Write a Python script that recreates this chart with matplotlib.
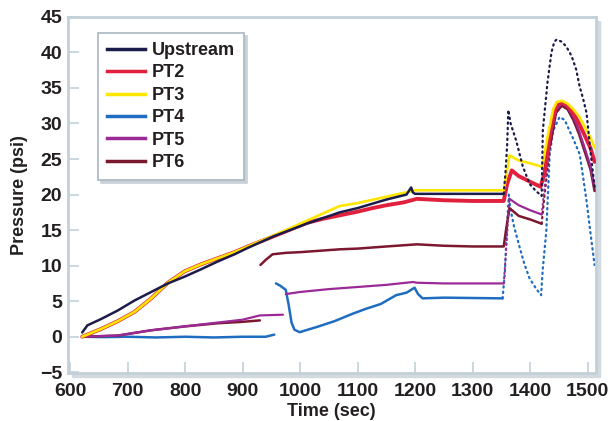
import numpy as np
import matplotlib
matplotlib.use("Agg")
import matplotlib.pyplot as plt
from matplotlib.lines import Line2D
from matplotlib.patches import Rectangle

plt.rcParams['font.family'] = ['Liberation Sans', 'DejaVu Sans']
plt.rcParams['font.weight'] = 'bold'

# valores (tiempo en s, presion en psi); nan = hueco
up_t = [621, 630, 654, 683, 712, 741, 770, 799, 828, 857, 886, 909, 953, 1011, 1069, 1100, 1150,
        1185, 1193, 1196, 1200, 1250, 1300, 1354, 1357, 1360, 1362, 1366, 1376, 1387, 1399, 1410,
        1420, 1422, 1430, 1437, 1442, 1446, 1455, 1463, 1472, 1480, 1486, 1492, 1498, 1505, 1512]
up_p = [0.6, 1.6, 2.5, 3.7, 5.1, 6.3, 7.5, 8.45, 9.5, 10.6, 11.6, 12.5, 14.1, 15.9, 17.5, 18.1, 19.3,
        20.0, 21.0, 20.3, 20.1, 20.1, 20.1, 20.1, 23.0, 27.0, 31.9, 30.0, 27.5, 24.0, 21.5, 20.5,
        19.8, 29.0, 35.7, 40.0, 41.5, 41.8, 41.5, 40.8, 39.5, 37.6, 35.2, 33.5, 31.5, 26.0, 21.0]

pt2_t = [621, 654, 683, 712, 741, 770, 799, 828, 857, 886, 909, 953, 1011, 1040, 1070, 1100, 1126,
         1150, 1180, 1203, 1250, 1300, 1354, 1360, 1368, 1380, 1400, 1418, 1425, 1435, 1445, 1455,
         1465, 1475, 1485, 1495, 1505, 1512]
pt2_p = [0, 1.1, 2.2, 3.5, 5.4, 7.6, 9.2, 10.2, 11.05, 11.9, 12.7, 14.1, 16.0, 16.6, 17.1, 17.6, 18.1,
         18.5, 18.9, 19.4, 19.2, 19.1, 19.1, 21.5, 23.4, 22.6, 21.8, 21.1, 23.0, 29.0, 32.5, 33.0,
         32.5, 31.5, 30.0, 28.3, 26.5, 24.6]

pt3_t = [621, 654, 683, 712, 741, 770, 799, 828, 857, 886, 909, 953, 1011, 1069, 1100, 1150, 1200,
         1250, 1300, 1354, 1360, 1364, 1380, 1400, 1421, 1430, 1440, 1446, 1455, 1465, 1475, 1485,
         1495, 1505, 1512]
pt3_p = [0, 1.1, 2.2, 3.5, 5.4, 7.6, 9.2, 10.2, 11.05, 11.9, 12.7, 14.2, 16.3, 18.4, 18.8, 19.7, 20.6,
         20.6, 20.6, 20.6, 23.5, 25.5, 24.8, 24.4, 23.9, 28.0, 32.0, 33.0, 33.2, 32.8, 32.0, 31.0,
         29.5, 28.0, 26.6]

pt4_t = [621, 660, 700, 750, 800, 850, 900, 940, 955, np.nan, 958, 965, 975, 980, 985, 990, 999, 1030,
         1060, 1090, 1115, 1140, 1167, 1185, 1199, 1205, 1213, 1250, 1300, 1352, 1356, 1360, 1363,
         1365, 1372, 1382, 1390, 1399, 1410, 1419, 1422, 1428, 1434, 1440, 1451, 1460, 1474, 1486,
         1492, 1498, 1505, 1512]
pt4_p = [0, -0.05, 0, -0.1, 0, -0.1, 0, 0, 0.3, np.nan, 7.5, 7.2, 6.6, 4.5, 2.0, 1.0, 0.64, 1.4,
         2.2, 3.2, 3.95, 4.6, 5.85, 6.2, 6.9, 6.0, 5.4, 5.5, 5.45, 5.4, 9.0, 16.0, 20.0,
         18.2, 15.5, 12.5, 10.2, 8.2, 6.8, 5.85, 9.6, 14.8, 25.7, 29.0, 30.9, 30.5, 28.0, 25.7,
         22.5, 19.1, 14.5, 10.1]

pt5_t = [621, 683, 740, 799, 857, 900, 930, 950, 970, np.nan, 975, 1000, 1050, 1100, 1150, 1196, 1203,
         1250, 1300, 1354, 1358, 1364, 1380, 1400, 1420, 1425, 1435, 1445, 1455, 1465, 1475, 1485,
         1495, 1505, 1512]
pt5_p = [0, 0.17, 0.9, 1.45, 2.0, 2.4, 3.0, 3.05, 3.1, np.nan, 6.0, 6.3, 6.7, 7.0, 7.3, 7.7, 7.6,
         7.5, 7.5, 7.5, 12.0, 19.4, 18.5, 17.8, 17.2, 21.0, 28.0, 32.0, 32.8, 32.3, 31.0, 29.0,
         26.5, 24.0, 21.0]

pt6_t = [621, 683, 740, 799, 857, 900, 930, np.nan, 931, 940, 952, 975, 1000, 1069, 1100, 1150, 1203,
         1250, 1300, 1354, 1358, 1364, 1380, 1400, 1420, 1425, 1435, 1445, 1455, 1465, 1475, 1485,
         1495, 1505, 1512]
pt6_p = [0, 0.17, 0.9, 1.45, 1.9, 2.1, 2.3, np.nan, 10.1, 10.8, 11.6, 11.8, 11.9, 12.3, 12.4, 12.7, 13.0,
         12.8, 12.7, 12.7, 15.0, 18.1, 17.0, 16.5, 15.9, 20.0, 27.0, 31.5, 32.5, 32.0, 30.5, 28.5,
         26.0, 23.5, 20.5]

nombres = ['Upstream', 'PT2', 'PT3', 'PT4', 'PT5', 'PT6']
colores = ['#1c1c4a', '#e0203c', '#ffe600', '#1f6dc0', '#9b2a96', '#7b1830']


def dibujar(ax, t, p, color, lw, z, disperso=False):
    # tramos rapidos (o el final disperso) con puntos, el resto con linea continua
    t = np.asarray(t, float)
    p = np.asarray(p, float)
    tramos = []
    for i in range(len(t) - 1):
        if np.isnan(t[i]) or np.isnan(t[i + 1]):
            continue
        pend = abs(p[i + 1] - p[i]) / (t[i + 1] - t[i])
        punteado = pend > 0.6 or (disperso and t[i] >= 1354)
        if tramos and tramos[-1][0] == punteado and tramos[-1][2] == i:
            tramos[-1][2] = i + 1
        else:
            tramos.append([punteado, i, i + 1])
    for punteado, a, b in tramos:
        if punteado:
            ax.plot(t[a:b + 1], p[a:b + 1], color=color, lw=lw * 0.9, ls=(0, (0.6, 1.8)),
                    dash_capstyle='round', zorder=z)
        else:
            ax.plot(t[a:b + 1], p[a:b + 1], color=color, lw=lw, solid_capstyle='round',
                    solid_joinstyle='round', zorder=z)


fig = plt.figure(figsize=(6.11, 4.21), dpi=100)
ax = fig.add_axes([0.111, 0.114, 0.864, 0.846])

# sombra del marco
fig.patches.append(Rectangle((0.111 + 4 / 611, 0.114 - 4 / 421), 0.864, 0.846,
                             transform=fig.transFigure, color='#d3dadf', zorder=-1))
ax.set_facecolor('white')

dibujar(ax, pt4_t, pt4_p, colores[3], 1.8, 2, disperso=True)
dibujar(ax, pt6_t, pt6_p, colores[5], 1.8, 3)
dibujar(ax, pt5_t, pt5_p, colores[4], 1.6, 3)
dibujar(ax, pt2_t, pt2_p, colores[1], 2.8, 4)
dibujar(ax, pt3_t, pt3_p, colores[2], 1.9, 5)
dibujar(ax, up_t, up_p, colores[0], 1.8, 6, disperso=True)

ax.set_xlim(596, 1514)
ax.set_ylim(-5.1, 45)
ax.set_xticks(range(600, 1501, 100))
ax.set_yticks(range(-5, 46, 5))

for s in ax.spines.values():
    s.set_color('#c3d0d8')
    s.set_linewidth(2)
ax.tick_params(direction='in', length=8, width=1.2, color='#c3d0d8', labelsize=14,
               labelcolor='#231f20')
ax.tick_params(axis='x', pad=7)
ax.tick_params(axis='y', pad=4)
for lab in ax.get_xticklabels() + ax.get_yticklabels():
    lab.set_fontweight('bold')

ax.set_xlabel('Time (sec)', fontsize=13, fontweight='bold', color='#231f20', labelpad=2)
ax.set_ylabel('Pressure (psi)', fontsize=13, fontweight='bold', color='#231f20', labelpad=9)

manijas = [Line2D([0], [0], color=c, lw=2.5) for c in colores]
leg = ax.legend(manijas, nombres, loc='upper left', bbox_to_anchor=(0.04, 0.98),
                prop={'weight': 'bold', 'size': 13}, handlelength=2.1, labelspacing=0.3,
                handletextpad=0.4, borderpad=0.5, fancybox=False,
                shadow={'color': '#c9d1d7', 'alpha': 1.0})
leg.get_frame().set_edgecolor('#a9b8c2')
leg.get_frame().set_linewidth(1.2)
for txt in leg.get_texts():
    txt.set_color('#231f20')

fig.savefig('out.png', dpi=100)
